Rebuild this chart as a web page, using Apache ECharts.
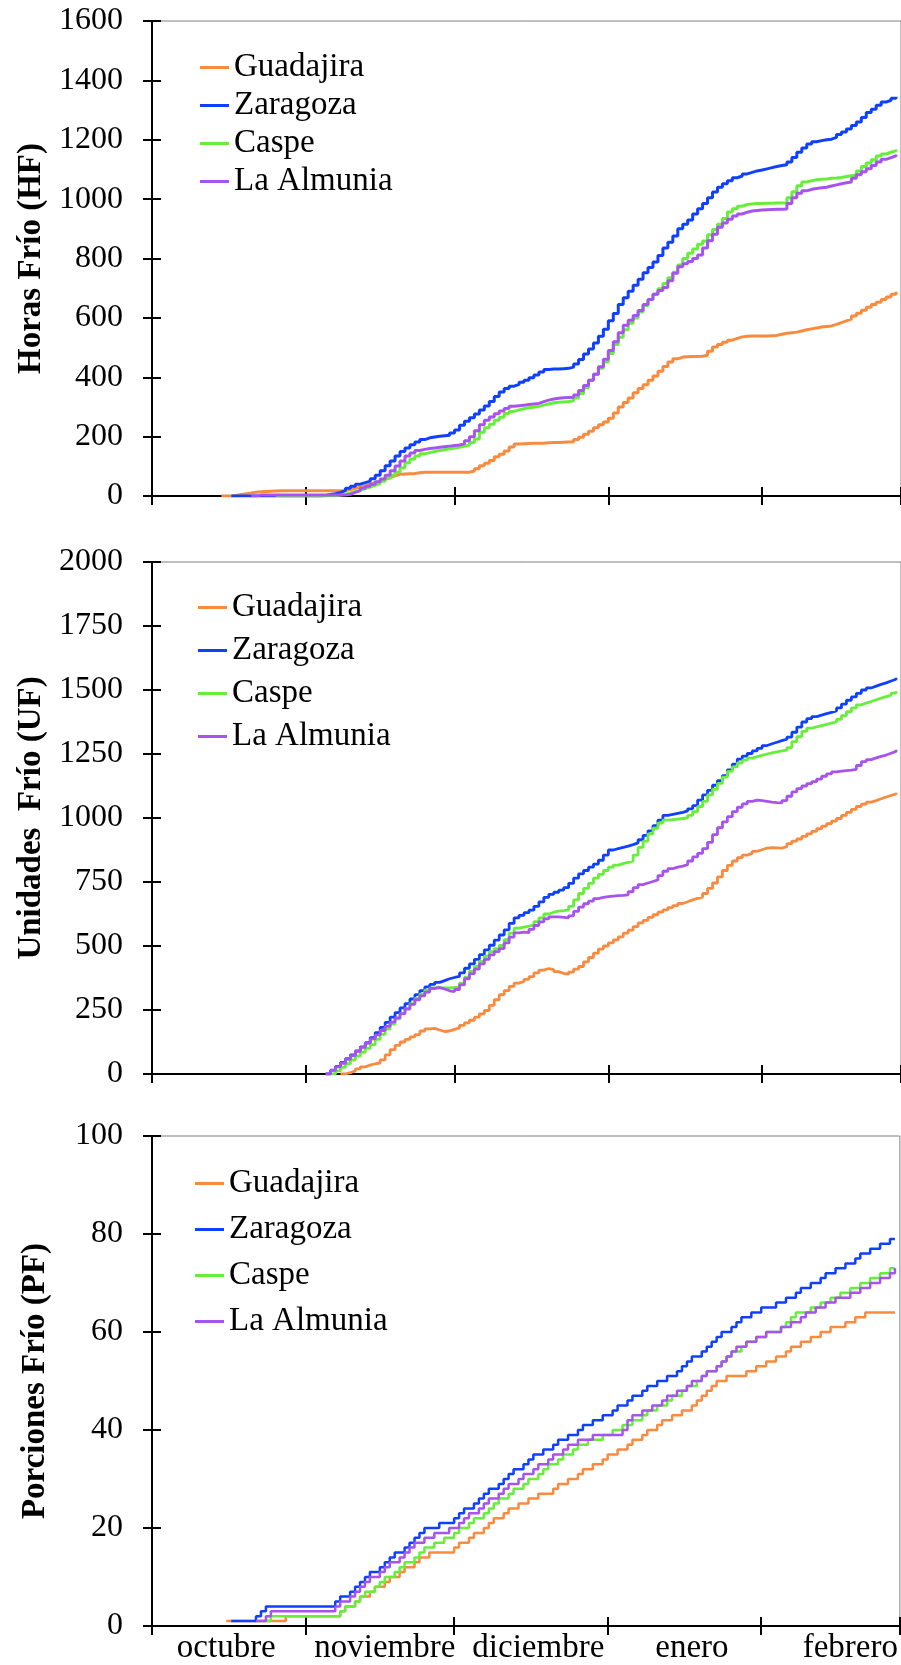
<!DOCTYPE html>
<html>
<head>
<meta charset="utf-8">
<script src="https://cdn.jsdelivr.net/npm/echarts@6/dist/echarts.min.js"></script>
<style>
  html, body { margin: 0; padding: 0; background: #ffffff; }
  #chart { width: 901px; height: 1665px; }
</style>
</head>
<body>
<div id="chart"></div>
<script>
// Months on the horizontal axis (1 Oct .. 1 Mar), one category per day
const months = ['octubre', 'noviembre', 'diciembre', 'enero', 'febrero'];
const monthDays = [31, 30, 31, 31, 28];
const monthLabelDay = [15, 47, 78, 109, 141];

const stations = ['Guadajira', 'Zaragoza', 'Caspe', 'La Almunia'];
const stationColors = ['#FA8A3E', '#1040FF', '#66EE3A', '#A653F0'];

// Horas Frío (HF): first day index of each series, then daily accumulated values
const hfStart = [14, 16, 25, 20];
const hfGuadajira = [
  0,0,2,5,8,10,13,14,15,16,17,18,
  18,18,18,18,18,18,18,18,18,18,18,18,18,
  22,26,30,34,40,45,50,56,62,68,73,74,75,76,78,80,
  80,80,80,80,80,80,80,80,80,
  84,92,102,110,120,132,141,152,165,175,176,177,178,178,178,179,180,180,181,182,183,
  190,198,208,218,230,240,249,262,280,300,315,330,348,362,375,390,404,420,436,451,462,
  468,469,470,470,471,474,488,502,510,518,525,531,536,538,539,539,539,539,540,541,
  545,548,550,552,556,560,563,566,569,571,573,578,584,590,596,606,616,626,636,645,
  653,662,670,680,688
];
const hfZaragoza = [
  0,0,0,0,0,0,0,0,0,0,0,0,0,0,0,0,0,0,
  2,5,8,12,18,26,33,40,45,50,58,70,85,102,118,135,150,162,173,182,
  190,196,199,201,203,205,212,222,238,252,264,276,290,303,318,335,350,362,370,376,
  383,390,398,408,418,426,428,428,429,430,
  434,445,460,478,495,515,538,562,590,615,645,668,690,710,730,752,770,788,810,835,
  855,876,900,915,930,950,968,985,1005,1024,1040,1052,1062,1072,1078,1085,1090,1095,1098,1102,
  1106,1110,1113,1116,1125,1140,1158,1172,1186,1193,1197,1200,1202,1208,1218,1226,1236,1248,1260,1275,
  1292,1303,1316,1327,1333,1340,1345
];
const hfCaspe = [
  0,0,0,0,0,0,0,0,0,0,0,0,
  3,6,10,15,20,25,30,36,42,50,60,70,80,95,112,125,135,142,146,150,
  153,156,159,162,164,168,172,180,192,215,230,242,255,265,278,285,290,294,297,299,
  302,306,310,314,316,317,318,
  321,330,345,365,390,410,430,451,480,510,535,560,582,600,620,642,662,680,698,716,
  735,754,778,800,818,832,848,859,880,898,915,935,957,968,976,982,984,985,985,986,
  986,987,987,988,1005,1025,1045,1058,1062,1065,1067,1068,1070,1071,1073,1076,1079,1081,1095,1110,
  1122,1133,1145,1152,1158,1163,1167
];
const hfAlmunia = [
  0,3,3,3,3,3,3,3,3,3,3,3,3,3,3,3,3,3,3,
  6,12,18,26,33,40,48,57,70,85,101,118,135,145,153,157,160,162,164,166,
  168,170,172,176,186,200,220,240,255,266,277,286,295,302,304,306,308,310,312,318,
  323,327,329,331,332,
  333,340,355,372,390,410,435,461,490,520,550,575,592,608,625,645,662,680,692,702,
  725,750,772,782,790,800,812,835,860,882,905,920,932,943,950,956,960,962,963,964,
  965,966,966,967,985,1005,1020,1028,1033,1036,1038,1040,1044,1048,1052,1055,1058,1070,1082,1092,
  1102,1113,1125,1134,1140,1146,1150
];

// Unidades Frío (UF)
const ufStart = [38, 35, 36, 35];
const ufGuadajira = [
  0,5,12,20,28,35,40,43,55,75,95,112,125,135,145,154,168,176,178,172,
  166,168,174,180,190,200,210,222,235,248,268,290,310,326,342,355,362,370,380,395,
  406,412,408,400,393,390,
  398,410,420,438,455,472,488,500,512,524,536,550,562,576,590,600,612,622,632,641,
  650,658,666,673,680,686,691,705,725,746,770,795,815,832,845,855,862,870,876,882,
  884,883,882,888,900,910,918,928,938,948,958,968,978,988,998,1010,1022,1034,1045,1054,
  1062,1068,1075,1082,1088,1094,1099
];
const ufZaragoza = [
  0,15,30,45,60,75,90,106,122,142,162,182,202,222,240,258,275,293,310,326,
  340,350,358,365,372,377,381,395,413,430,448,466,485,503,523,543,563,588,610,620,
  630,640,655,672,690,702,710,718,728,
  745,765,782,795,808,820,835,855,875,880,885,890,896,903,915,932,950,970,992,1010,
  1014,1018,1022,1028,1036,1048,1070,1090,1108,1128,1146,1165,1188,1210,1230,1242,1252,1262,1272,1283,
  1290,1296,1302,1308,1316,1335,1355,1375,1388,1396,1402,1408,1413,1418,1430,1445,1460,1473,1487,1500,
  1508,1515,1522,1528,1535,1542,1548
];
const ufCaspe = [
  0,12,26,40,55,70,85,100,115,135,155,175,195,215,235,255,275,295,312,328,
  336,337,336,336,338,343,355,378,402,420,440,460,478,490,502,525,550,570,574,578,
  582,595,610,625,632,636,638,641,
  655,680,705,725,745,765,780,795,808,816,822,827,832,855,885,910,938,960,980,992,
  994,996,998,1000,1010,1025,1045,1065,1090,1112,1135,1160,1182,1200,1215,1226,1234,1240,1245,1250,
  1254,1258,1262,1265,1275,1298,1318,1338,1351,1356,1361,1366,1371,1375,1385,1400,1415,1430,1442,1449,
  1455,1462,1468,1474,1480,1488,1495
];
const ufAlmunia = [
  0,14,28,42,57,72,88,104,121,137,153,170,186,203,219,236,254,272,290,305,
  320,334,338,332,325,322,330,348,372,392,410,430,448,465,478,490,512,535,551,554,
  552,565,580,594,606,614,614,612,610,
  618,635,652,665,675,685,690,693,695,697,698,700,712,728,740,746,752,758,775,792,
  802,808,812,818,832,848,862,880,905,935,962,985,1005,1025,1042,1055,1065,1070,1068,1065,
  1062,1060,1059,1068,1085,1102,1115,1125,1134,1142,1152,1163,1172,1180,1183,1185,1187,1190,1205,1220,
  1228,1235,1241,1246,1253,1260,1267
];

// Porciones Frío (PF)
const pfStart = [15, 16, 21, 21];
const pfGuadajira = [
  1,1,1,1,1,1,1,1,1,1,1,1,
  2,2,2,2,2,2,2,2,2,2,2,
  3,4,4,5,6,6,7,8,8,9,
  10,10,11,12,12,13,14,14,15,15,
  15,15,15,16,17,17,18,19,19,20,
  21,22,22,23,24,24,25,25,26,26,
  27,27,27,28,29,29,30,30,31,32,
  32,33,33,34,35,35,36,36,37,38,
  38,39,40,40,41,42,42,43,43,44,
  44,45,46,47,48,49,50,50,51,51,
  51,51,52,52,53,53,54,54,55,55,
  56,57,57,58,58,59,59,60,60,61,
  61,61,62,62,63,63,64,64,64,64,
  64,64,64
];
const pfZaragoza = [
  1,1,1,1,1,2,3,
  4,4,4,4,4,4,4,4,4,4,4,4,4,4,
  5,6,6,7,8,9,10,11,11,12,
  13,14,15,15,16,17,18,19,20,20,
  20,21,21,21,22,23,24,24,25,26,
  27,28,28,29,30,31,32,32,33,34,
  35,35,36,36,37,38,38,39,39,40,
  41,41,42,42,43,43,44,45,45,46,
  47,47,48,49,49,50,50,51,51,52,
  53,54,55,55,56,57,58,59,60,60,
  61,62,63,63,64,64,65,65,65,66,
  66,67,67,68,69,69,70,70,71,72,
  72,73,73,74,74,75,76,76,77,77,
  78,78,79,79
];
const pfCaspe = [
  1,1,1,
  2,2,2,2,2,2,2,2,2,2,2,2,2,2,
  3,4,4,5,6,7,7,8,9,10,
  10,11,12,13,13,14,15,16,16,17,
  17,18,18,19,20,20,21,22,22,23,
  24,25,26,26,27,28,28,29,30,30,
  31,32,33,33,34,35,35,36,37,37,
  38,38,38,39,39,40,40,41,41,42,
  42,43,44,44,45,45,46,47,47,48,
  49,49,50,51,52,52,53,54,55,56,
  56,57,58,58,59,59,60,60,60,61,
  62,63,64,64,64,65,65,66,66,67,
  67,68,68,69,69,70,70,71,71,72,
  72,73,73
];
const pfAlmunia = [
  1,1,2,
  3,3,3,3,3,3,3,3,3,3,3,3,3,
  4,5,5,6,7,8,9,10,10,11,
  12,13,13,14,15,16,17,17,18,18,
  19,19,19,20,20,21,22,23,23,24,
  25,26,26,27,28,29,29,30,31,31,
  32,33,33,34,35,35,36,37,37,38,
  38,38,39,39,39,39,39,39,40,42,
  43,43,44,44,45,45,46,47,47,48,
  48,49,50,50,51,52,52,53,54,55,
  56,57,57,58,58,59,59,60,60,60,
  61,61,62,62,63,64,64,65,65,66,
  66,67,67,67,68,68,69,69,70,70,
  71,71,72,73
];

// Scale of the three vertical axes
const hfTicks = { max: 1600, step: 200 };
const ufTicks = { max: 2000, step: 250 };
const pfTicks = { max: 100, step: 20 };

// ---- build the day categories and month boundaries ----
const days = [];
const monthStart = [0];
months.forEach((m, i) => {
  for (let d = 1; d <= monthDays[i]; d++) days.push(m + ' ' + d);
  monthStart.push(monthStart[i] + monthDays[i]);
});
days.push('marzo 1');
const isMonthStart = i => monthStart.indexOf(i) !== -1;
const isLabelDay = i => monthLabelDay.indexOf(i) !== -1;

function expand(start, values) {
  return new Array(start).fill(null).concat(values);
}

const serif = "'Liberation Serif', 'Times New Roman', serif";

const panels = [
  { title: 'Horas Frío (HF)', ticks: hfTicks, starts: hfStart,
    values: [hfGuadajira, hfZaragoza, hfCaspe, hfAlmunia],
    top: 21, height: 475, lineWidth: 3,
    legendTop: 46, legendLeft: 195, legendGap: 5 },
  { title: 'Unidades  Frío (UF)', ticks: ufTicks, starts: ufStart,
    values: [ufGuadajira, ufZaragoza, ufCaspe, ufAlmunia],
    top: 562, height: 512, lineWidth: 2.8,
    legendTop: 586, legendLeft: 193, legendGap: 10 },
  { title: 'Porciones Frío (PF)', ticks: pfTicks, starts: pfStart,
    values: [pfGuadajira, pfZaragoza, pfCaspe, pfAlmunia],
    top: 1136, height: 493, lineWidth: 2.5,
    legendTop: 1162, legendLeft: 190, legendGap: 13 }
];

const grid = [], xAxis = [], yAxis = [], legend = [], series = [];
const axisColor = '#000000';

panels.forEach((p, k) => {
  grid.push({
    left: 152, top: p.top, width: 756, height: p.height,
    show: true, borderColor: '#808080', borderWidth: 1,
    backgroundColor: 'transparent'
  });

  const xBase = {
    type: 'category', gridIndex: k, data: days, boundaryGap: false,
    position: 'bottom', splitLine: { show: false }
  };
  // main x axis: line, outer half of ticks, month names on the last panel
  xAxis.push(Object.assign({}, xBase, {
    axisLine: { show: true, lineStyle: { color: axisColor, width: 2 } },
    axisTick: { show: true, interval: i => isMonthStart(i), length: 9, inside: false,
                lineStyle: { color: axisColor, width: 2 } },
    axisLabel: { show: k === 2, interval: i => isLabelDay(i),
                 formatter: (v, i) => months[monthLabelDay.indexOf(i)] || '',
                 fontFamily: serif, fontSize: 33, color: axisColor, margin: 6 }
  }));
  // overlay x axis: inner half of the ticks so they cross the line
  xAxis.push(Object.assign({}, xBase, {
    axisLine: { show: false },
    axisTick: { show: true, interval: i => isMonthStart(i), length: 9, inside: true,
                lineStyle: { color: axisColor, width: 2 } },
    axisLabel: { show: false }
  }));

  const yBase = {
    type: 'value', gridIndex: k, min: 0, max: p.ticks.max, interval: p.ticks.step,
    position: 'left', splitLine: { show: false }
  };
  yAxis.push(Object.assign({}, yBase, {
    axisLine: { show: true, lineStyle: { color: axisColor, width: 2 } },
    axisTick: { show: true, length: 9, inside: false, lineStyle: { color: axisColor, width: 2 } },
    axisLabel: { fontFamily: serif, fontSize: 32, color: axisColor, margin: 29,
                 formatter: v => String(v) },
    name: p.title, nameLocation: 'middle', nameGap: 100, nameRotate: 90,
    nameTextStyle: { fontFamily: serif, fontSize: 33, fontWeight: 'bold', color: axisColor }
  }));
  yAxis.push(Object.assign({}, yBase, {
    axisLine: { show: false },
    axisTick: { show: true, length: 9, inside: true, lineStyle: { color: axisColor, width: 2 } },
    axisLabel: { show: false }
  }));

  legend.push({
    data: stations, orient: 'vertical', left: p.legendLeft, top: p.legendTop,
    icon: 'rect', itemWidth: 29, itemHeight: 3, itemGap: p.legendGap,
    selectedMode: false,
    textStyle: { fontFamily: serif, fontSize: 33, lineHeight: 32, color: axisColor }
  });

  stations.forEach((name, s) => {
    series.push({
      name: name, type: 'line', step: 'end',
      xAxisIndex: 2 * k, yAxisIndex: 2 * k,
      data: expand(p.starts[s], p.values[s]),
      symbol: 'none', showSymbol: false, connectNulls: false,
      color: stationColors[s],
      lineStyle: { width: p.lineWidth, color: stationColors[s] },
      itemStyle: { color: stationColors[s] },
      z: 2 + s
    });
  });
});

const chart = echarts.init(document.getElementById('chart'), null, { renderer: 'canvas' });
chart.setOption({
  animation: false,
  backgroundColor: '#ffffff',
  grid: grid, xAxis: xAxis, yAxis: yAxis, legend: legend, series: series
});
</script>
</body>
</html>
